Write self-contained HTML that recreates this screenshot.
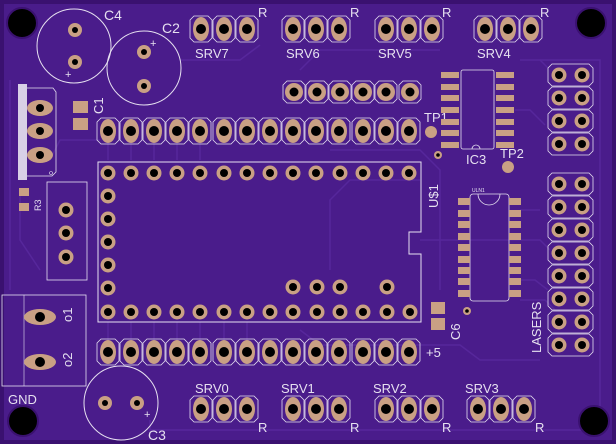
<!DOCTYPE html>
<html><head><meta charset="utf-8"><style>
html,body{margin:0;padding:0;background:#3a1170;}
svg{display:block;}
text{font-family:"Liberation Sans",sans-serif;fill:#e6e0f0;}
</style></head><body>
<svg width="616" height="444" viewBox="0 0 616 444" xmlns="http://www.w3.org/2000/svg">
<defs>
<g id="hp"><path d="M-7,-13 H7 L11,-9 V9 L7,13 H-7 L-11,9 V-9 Z" fill="none" stroke="#e6e0f0" stroke-width="0.8"/><ellipse rx="8" ry="12" fill="#c9a084"/><circle r="5" fill="#000"/></g>
<g id="rp"><path d="M-7,-11 H7 L11,-7 V7 L7,11 H-7 L-11,7 V-7 Z" fill="none" stroke="#e6e0f0" stroke-width="0.8"/><circle r="9" fill="#c9a084"/><circle r="4.5" fill="#000"/></g>
<g id="mh"><circle r="7.5" fill="#c9a084"/><circle r="4" fill="#000"/></g>
<g id="cp"><circle r="7" fill="#c9a084"/><circle r="3" fill="#000"/></g>
<g id="row"><path d="M-7,-11 H30 L34,-7 V7 L30,11 H-7 L-11,7 V-7 Z" fill="none" stroke="#e6e0f0" stroke-width="0.8"/><circle r="7.5" fill="#c9a084"/><circle r="4" fill="#000"/><circle cx="23" r="7.5" fill="#c9a084"/><circle cx="23" r="4" fill="#000"/></g>
</defs>
<rect x="0" y="0" width="616" height="444" fill="#3a1170"/>
<rect x="4" y="4" width="608" height="436" fill="#4a1c8b"/>
<g stroke="#5a2aa0" stroke-width="1.5" fill="none" opacity="0.8">
<path d="M20,190 V240 L40,270"/><path d="M10,80 V290"/><path d="M330,150 H420 L440,170 V290"/><path d="M420,240 H540 L550,250"/><path d="M300,70 L320,50 H440"/><path d="M180,60 L240,60 L260,45"/><path d="M540,60 H600 V420"/><path d="M150,420 V430 H600"/><path d="M300,330 L320,345 H460 L480,360 H540"/><path d="M330,270 V200 L350,180 H420"/><path d="M100,140 H60 L50,160"/><path d="M520,300 H545 L555,310"/>
<path d="M108,143 V160"/><path d="M131,143 V160"/><path d="M154,143 V160"/><path d="M177,143 V160"/><path d="M200,143 V160"/><path d="M108,322 V340"/><path d="M131,322 V340"/><path d="M154,322 V340"/><path d="M177,322 V340"/><path d="M200,322 V340"/><path d="M224,322 V340"/><path d="M247,322 V340"/>
<path d="M520,60 H540 L548,68"/><path d="M515,110 H530 L545,125"/><path d="M520,210 H540"/><path d="M521,280 H535 L548,290"/>
</g>
<circle cx="22" cy="23" r="15" fill="#000" stroke="#3a1170" stroke-width="2"/>
<circle cx="591" cy="23" r="15" fill="#000" stroke="#3a1170" stroke-width="2"/>
<circle cx="23" cy="421" r="15" fill="#000" stroke="#3a1170" stroke-width="2"/>
<circle cx="594" cy="421" r="15" fill="#000" stroke="#3a1170" stroke-width="2"/>
<circle cx="74" cy="46" r="37" fill="none" stroke="#e6e0f0" stroke-width="1"/>
<use href="#cp" x="75" y="30"/><use href="#cp" x="75" y="62"/>
<text x="65" y="78" font-size="11">+</text>
<text x="104" y="20" font-size="14">C4</text>
<circle cx="144" cy="68" r="37" fill="none" stroke="#e6e0f0" stroke-width="1"/>
<use href="#cp" x="144" y="52"/><use href="#cp" x="144" y="86"/>
<text x="150" y="47" font-size="11">+</text>
<text x="162" y="33" font-size="14">C2</text>
<use href="#hp" x="201" y="29"/><use href="#hp" x="224" y="29"/><use href="#hp" x="247" y="29"/>
<text x="195" y="58" font-size="13">SRV7</text><text x="258" y="17" font-size="13">R</text>
<use href="#hp" x="293" y="29"/><use href="#hp" x="316" y="29"/><use href="#hp" x="339" y="29"/>
<text x="286" y="58" font-size="13">SRV6</text><text x="350" y="17" font-size="13">R</text>
<use href="#hp" x="386" y="29"/><use href="#hp" x="409" y="29"/><use href="#hp" x="432" y="29"/>
<text x="378" y="58" font-size="13">SRV5</text><text x="442" y="17" font-size="13">R</text>
<use href="#hp" x="485" y="29"/><use href="#hp" x="508" y="29"/><use href="#hp" x="531" y="29"/>
<text x="477" y="58" font-size="13">SRV4</text><text x="540" y="17" font-size="13">R</text>
<use href="#rp" x="294" y="92"/><use href="#rp" x="317" y="92"/><use href="#rp" x="340" y="92"/><use href="#rp" x="363" y="92"/><use href="#rp" x="386" y="92"/><use href="#rp" x="410" y="92"/>
<g>
<use href="#hp" x="108" y="131"/><use href="#hp" x="131" y="131"/><use href="#hp" x="154" y="131"/><use href="#hp" x="177" y="131"/><use href="#hp" x="200" y="131"/><use href="#hp" x="224" y="131"/><use href="#hp" x="247" y="131"/><use href="#hp" x="270" y="131"/><use href="#hp" x="293" y="131"/><use href="#hp" x="316" y="131"/><use href="#hp" x="339" y="131"/><use href="#hp" x="363" y="131"/><use href="#hp" x="386" y="131"/><use href="#hp" x="409" y="131"/>
</g>
<g>
<use href="#hp" x="108" y="352"/><use href="#hp" x="131" y="352"/><use href="#hp" x="154" y="352"/><use href="#hp" x="177" y="352"/><use href="#hp" x="200" y="352"/><use href="#hp" x="224" y="352"/><use href="#hp" x="247" y="352"/><use href="#hp" x="270" y="352"/><use href="#hp" x="293" y="352"/><use href="#hp" x="316" y="352"/><use href="#hp" x="339" y="352"/><use href="#hp" x="363" y="352"/><use href="#hp" x="386" y="352"/><use href="#hp" x="409" y="352"/>
</g>
<text x="426" y="357" font-size="13">+5</text>
<path d="M98,162 H421 V232 H409 V254 H421 V322 H98 Z" fill="none" stroke="#e6e0f0" stroke-width="1"/>
<g>
<use href="#mh" x="108" y="173"/><use href="#mh" x="131" y="173"/><use href="#mh" x="154" y="173"/><use href="#mh" x="177" y="173"/><use href="#mh" x="200" y="173"/><use href="#mh" x="224" y="173"/><use href="#mh" x="247" y="173"/><use href="#mh" x="270" y="173"/><use href="#mh" x="293" y="173"/><use href="#mh" x="316" y="173"/><use href="#mh" x="340" y="173"/><use href="#mh" x="363" y="173"/><use href="#mh" x="386" y="173"/><use href="#mh" x="409" y="173"/>
<use href="#mh" x="108" y="196"/><use href="#mh" x="108" y="219"/><use href="#mh" x="108" y="242"/><use href="#mh" x="108" y="265"/><use href="#mh" x="108" y="288"/>
<use href="#mh" x="108" y="312"/><use href="#mh" x="131" y="312"/><use href="#mh" x="154" y="312"/><use href="#mh" x="177" y="312"/><use href="#mh" x="200" y="312"/><use href="#mh" x="224" y="312"/><use href="#mh" x="247" y="312"/><use href="#mh" x="270" y="312"/><use href="#mh" x="293" y="312"/><use href="#mh" x="317" y="312"/><use href="#mh" x="340" y="312"/><use href="#mh" x="363" y="312"/><use href="#mh" x="387" y="312"/><use href="#mh" x="410" y="312"/>
<use href="#mh" x="293" y="287"/><use href="#mh" x="317" y="287"/><use href="#mh" x="340" y="287"/><use href="#mh" x="387" y="287"/>
</g>
<text transform="translate(438,208) rotate(-90)" font-size="13">U$1</text>
<circle cx="431" cy="132" r="6" fill="#c9a084"/>
<text x="424" y="122" font-size="13">TP1</text>
<circle cx="438" cy="155" r="4" fill="#c9a084"/><circle cx="438" cy="155" r="1.8" fill="#000"/>
<circle cx="508" cy="167" r="6" fill="#c9a084"/>
<text x="500" y="158" font-size="13">TP2</text>
<text x="466" y="164" font-size="13">IC3</text>
<rect x="461" y="70" width="33" height="79" rx="2" fill="none" stroke="#e6e0f0" stroke-width="0.8"/>
<path d="M472,149 A4,4 0 0 1 480,149" fill="none" stroke="#e6e0f0" stroke-width="0.8"/>
<g fill="#c9a084">
<rect x="441" y="72" width="18" height="6"/><rect x="441" y="84" width="18" height="6"/><rect x="441" y="95" width="18" height="6"/><rect x="441" y="107" width="18" height="6"/><rect x="441" y="119" width="18" height="6"/><rect x="441" y="130" width="18" height="6"/><rect x="441" y="142" width="18" height="6"/>
<rect x="496" y="72" width="18" height="6"/><rect x="496" y="84" width="18" height="6"/><rect x="496" y="95" width="18" height="6"/><rect x="496" y="107" width="18" height="6"/><rect x="496" y="119" width="18" height="6"/><rect x="496" y="130" width="18" height="6"/><rect x="496" y="142" width="18" height="6"/>
</g>
<rect x="470" y="194" width="39" height="107" rx="3" fill="none" stroke="#e6e0f0" stroke-width="0.8"/>
<path d="M478,194 A11,11 0 0 0 500,194" fill="none" stroke="#e6e0f0" stroke-width="0.8"/>
<text x="472" y="192" font-size="5">ULN1</text>
<g fill="#c9a084">
<rect x="458" y="198" width="12" height="7"/><rect x="458" y="210" width="12" height="7"/><rect x="458" y="221" width="12" height="7"/><rect x="458" y="233" width="12" height="7"/><rect x="458" y="244" width="12" height="7"/><rect x="458" y="256" width="12" height="7"/><rect x="458" y="267" width="12" height="7"/><rect x="458" y="278" width="12" height="7"/><rect x="458" y="290" width="12" height="7"/>
<rect x="509" y="198" width="12" height="7"/><rect x="509" y="210" width="12" height="7"/><rect x="509" y="221" width="12" height="7"/><rect x="509" y="233" width="12" height="7"/><rect x="509" y="244" width="12" height="7"/><rect x="509" y="256" width="12" height="7"/><rect x="509" y="267" width="12" height="7"/><rect x="509" y="278" width="12" height="7"/><rect x="509" y="290" width="12" height="7"/>
</g>
<circle cx="467" cy="311" r="4" fill="#c9a084"/><circle cx="467" cy="311" r="1.8" fill="#000"/>
<rect x="431" y="302" width="14" height="12" fill="#c9a084"/><rect x="431" y="318" width="14" height="12" fill="#c9a084"/>
<text transform="translate(460,340) rotate(-90)" font-size="13">C6</text>
<g>
<use href="#row" x="559" y="75"/><use href="#row" x="559" y="98"/><use href="#row" x="559" y="121"/><use href="#row" x="559" y="144"/>
<use href="#row" x="559" y="184"/><use href="#row" x="559" y="207"/><use href="#row" x="559" y="230"/><use href="#row" x="559" y="253"/><use href="#row" x="559" y="276"/><use href="#row" x="559" y="299"/><use href="#row" x="559" y="322"/><use href="#row" x="559" y="345"/>
</g>
<text transform="translate(541,353) rotate(-90)" font-size="13">LASERS</text>
<rect x="18" y="84" width="9" height="96" fill="#d8d0e6"/>
<path d="M27,88 H53 L56,92 V172 L52,176 H27" fill="none" stroke="#e6e0f0" stroke-width="0.8"/>
<ellipse cx="40" cy="108" rx="13" ry="8" fill="#c9a084"/><circle cx="40" cy="108" r="4" fill="#000"/>
<ellipse cx="40" cy="131" rx="13" ry="8" fill="#c9a084"/><circle cx="40" cy="131" r="4" fill="#000"/>
<ellipse cx="40" cy="155" rx="13" ry="8" fill="#c9a084"/><circle cx="40" cy="155" r="4" fill="#000"/>
<circle cx="51" cy="173" r="1.5" fill="none" stroke="#e6e0f0" stroke-width="0.6"/>
<rect x="73" y="101" width="15" height="12" fill="#c9a084"/><rect x="73" y="118" width="15" height="12" fill="#c9a084"/>
<text transform="translate(103,114) rotate(-90)" font-size="13">C1</text>
<rect x="19" y="188" width="10" height="8" fill="#c9a084"/><rect x="19" y="203" width="10" height="8" fill="#c9a084"/>
<text transform="translate(41,211) rotate(-90)" font-size="9">R3</text>
<rect x="47" y="182" width="40" height="98" fill="none" stroke="#e6e0f0" stroke-width="0.8"/>
<use href="#mh" x="66" y="210"/><use href="#mh" x="66" y="233"/><use href="#mh" x="66" y="257"/>
<rect x="2" y="295" width="84" height="91" fill="none" stroke="#e6e0f0" stroke-width="0.8"/>
<line x1="24" y1="295" x2="24" y2="386" stroke="#e6e0f0" stroke-width="0.6"/>
<ellipse cx="40" cy="317" rx="16" ry="8" fill="#c9a084"/><circle cx="40" cy="317" r="5" fill="#000"/>
<ellipse cx="40" cy="362" rx="16" ry="8" fill="#c9a084"/><circle cx="40" cy="362" r="5" fill="#000"/>
<text transform="translate(72,322) rotate(-90)" font-size="13">o1</text>
<text transform="translate(72,367) rotate(-90)" font-size="13">o2</text>
<text x="8" y="404" font-size="13">GND</text>
<circle cx="121" cy="403" r="37" fill="none" stroke="#e6e0f0" stroke-width="1"/>
<use href="#cp" x="105" y="403"/><use href="#cp" x="137" y="403"/>
<text x="144" y="418" font-size="11">+</text>
<text x="148" y="440" font-size="14">C3</text>
<use href="#hp" x="201" y="409"/><use href="#hp" x="224" y="409"/><use href="#hp" x="247" y="409"/>
<text x="195" y="393" font-size="13">SRV0</text><text x="258" y="432" font-size="13">R</text>
<use href="#hp" x="293" y="409"/><use href="#hp" x="316" y="409"/><use href="#hp" x="339" y="409"/>
<text x="281" y="393" font-size="13">SRV1</text><text x="350" y="432" font-size="13">R</text>
<use href="#hp" x="386" y="409"/><use href="#hp" x="409" y="409"/><use href="#hp" x="432" y="409"/>
<text x="373" y="393" font-size="13">SRV2</text><text x="442" y="432" font-size="13">R</text>
<use href="#hp" x="478" y="409"/><use href="#hp" x="501" y="409"/><use href="#hp" x="524" y="409"/>
<text x="465" y="393" font-size="13">SRV3</text><text x="535" y="432" font-size="13">R</text>
</svg>
</body></html>
